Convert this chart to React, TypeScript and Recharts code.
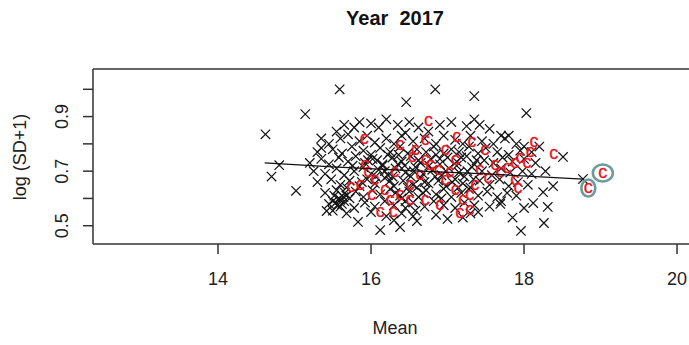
import { ReferenceLine, Scatter, ScatterChart, XAxis, YAxis } from 'recharts'

// Puntos negros (x): [Mean, log(SD+1)]
const CROSSES: [number, number][] = [
  // dispersos
  [14.62, 0.835], [14.7, 0.68], [14.8, 0.722], [15.02, 0.628], [15.14, 0.909], [15.35, 0.785],
  [15.59, 1.0], [16.46, 0.953], [16.84, 1.0], [17.35, 0.975], [18.03, 0.913], [18.51, 0.752],
  [18.77, 0.671], [18.38, 0.645], [18.25, 0.623], [18.12, 0.583], [18.31, 0.569], [18.26, 0.51],
  [17.96, 0.481], [17.69, 0.58], [15.83, 0.514], [16.12, 0.484], [16.38, 0.495], [16.6, 0.517],
  [15.42, 0.554], [16.3, 0.52], [17.4, 0.55], [17.2, 0.53],
  // 0.84 - 0.89
  [15.65, 0.87], [15.78, 0.86], [15.85, 0.88], [16.0, 0.875], [16.1, 0.86], [16.2, 0.89],
  [16.35, 0.87], [16.5, 0.88], [16.62, 0.86], [16.9, 0.87], [17.05, 0.88], [17.25, 0.865],
  [17.35, 0.89], [17.42, 0.87], [17.55, 0.855], [17.7, 0.83], [17.8, 0.83], [16.75, 0.845],
  [15.55, 0.845], [16.45, 0.84],
  // 0.80 - 0.84
  [15.45, 0.8], [15.6, 0.82], [15.7, 0.835], [15.85, 0.81], [15.95, 0.83], [16.05, 0.805],
  [16.2, 0.82], [16.3, 0.8], [16.4, 0.83], [16.55, 0.81], [16.7, 0.82], [16.85, 0.8],
  [16.95, 0.83], [17.1, 0.815], [17.2, 0.8], [17.3, 0.83], [17.45, 0.81], [17.6, 0.8],
  [17.75, 0.82], [17.9, 0.8], [18.0, 0.79], [15.35, 0.82],
  // 0.76 - 0.80
  [15.3, 0.77], [15.5, 0.78], [15.62, 0.765], [15.75, 0.79], [15.9, 0.775], [16.0, 0.76],
  [16.12, 0.785], [16.25, 0.77], [16.38, 0.79], [16.48, 0.765], [16.6, 0.78], [16.72, 0.77],
  [16.82, 0.79], [16.95, 0.765], [17.05, 0.78], [17.15, 0.77], [17.28, 0.79], [17.4, 0.765],
  [17.5, 0.785], [17.65, 0.77], [17.8, 0.76], [17.95, 0.775], [18.1, 0.77], [18.2, 0.79],
  // 0.72 - 0.76
  [15.2, 0.73], [15.35, 0.745], [15.45, 0.725], [15.58, 0.75], [15.7, 0.735], [15.8, 0.755],
  [15.92, 0.73], [16.02, 0.745], [16.15, 0.725], [16.28, 0.75], [16.4, 0.735], [16.52, 0.755],
  [16.65, 0.73], [16.78, 0.745], [16.9, 0.725], [17.0, 0.75], [17.12, 0.735], [17.25, 0.755],
  [17.35, 0.725], [17.48, 0.74], [17.6, 0.73], [17.72, 0.75], [17.85, 0.735], [18.0, 0.745],
  [18.15, 0.73], [16.35, 0.725], [16.85, 0.76],
  // 0.68 - 0.72
  [15.25, 0.7], [15.4, 0.69], [15.55, 0.71], [15.65, 0.685], [15.78, 0.7], [15.9, 0.715],
  [16.0, 0.69], [16.1, 0.705], [16.22, 0.685], [16.32, 0.71], [16.45, 0.695], [16.58, 0.715],
  [16.68, 0.69], [16.8, 0.705], [16.92, 0.685], [17.02, 0.71], [17.15, 0.695], [17.22, 0.68],
  [17.32, 0.715], [17.45, 0.7], [17.58, 0.685], [17.7, 0.71], [17.82, 0.695], [17.98, 0.7],
  [18.1, 0.69], [18.28, 0.7], [16.52, 0.68], [16.15, 0.72],
  // 0.64 - 0.68
  [15.3, 0.66], [15.48, 0.67], [15.6, 0.65], [15.72, 0.665], [15.85, 0.645], [15.95, 0.67],
  [16.05, 0.655], [16.18, 0.675], [16.3, 0.645], [16.42, 0.665], [16.55, 0.65], [16.65, 0.675],
  [16.75, 0.655], [16.88, 0.665], [16.98, 0.645], [17.1, 0.67], [17.2, 0.655], [17.3, 0.64],
  [17.42, 0.665], [17.55, 0.65], [17.68, 0.67], [17.8, 0.645], [17.92, 0.66], [18.05, 0.65],
  [16.25, 0.665], [16.6, 0.64],
  // 0.60 - 0.64
  [15.4, 0.62], [15.55, 0.63], [15.68, 0.61], [15.8, 0.625], [15.9, 0.605], [16.02, 0.63],
  [16.12, 0.615], [16.25, 0.635], [16.38, 0.61], [16.5, 0.625], [16.62, 0.605], [16.72, 0.63],
  [16.85, 0.615], [16.95, 0.635], [17.05, 0.605], [17.18, 0.62], [17.28, 0.635], [17.4, 0.61],
  [17.52, 0.625], [17.65, 0.605], [17.78, 0.62], [17.9, 0.61], [15.72, 0.6],
  // 0.56 - 0.60
  [15.45, 0.58], [15.6, 0.57], [15.65, 0.59], [15.78, 0.565], [15.92, 0.585], [16.05, 0.57],
  [16.18, 0.59], [16.3, 0.575], [16.45, 0.565], [16.55, 0.585], [16.7, 0.57], [16.82, 0.59],
  [16.95, 0.575], [17.1, 0.565], [17.22, 0.585], [17.35, 0.575], [17.55, 0.57], [17.7, 0.59],
  [18.0, 0.565],
  // 0.52 - 0.56
  [15.5, 0.555], [15.68, 0.545], [16.0, 0.55], [16.2, 0.535], [16.4, 0.545], [16.55, 0.535],
  [16.58, 0.555], [16.85, 0.54], [17.0, 0.525], [17.3, 0.545], [17.85, 0.53],
  // núcleo denso
  [16.08, 0.74], [16.18, 0.7], [16.28, 0.68], [16.36, 0.76], [16.44, 0.72], [16.56, 0.7],
  [16.62, 0.74], [16.7, 0.66], [16.76, 0.72], [16.84, 0.68], [16.9, 0.745], [16.98, 0.7],
  [17.06, 0.66], [17.12, 0.72], [17.18, 0.75], [17.26, 0.7], [17.34, 0.67], [17.38, 0.74],
  [16.48, 0.64], [16.32, 0.62], [16.68, 0.62], [16.92, 0.6], [17.14, 0.64], [16.22, 0.76],
  [16.06, 0.68], [15.96, 0.74], [15.88, 0.66], [15.76, 0.72], [15.68, 0.64], [15.58, 0.6],
  [15.52, 0.61], [15.62, 0.58], [15.56, 0.575], [15.5, 0.59], [15.66, 0.62],
  [15.6, 0.595], [15.54, 0.585], [15.64, 0.605], [16.4, 0.6], [16.45, 0.59],
]

// Puntos rojos ("c")
const RED_C: [number, number][] = [
  [15.74, 0.641], [15.91, 0.817], [16.75, 0.883], [16.12, 0.55], [16.29, 0.55], [17.12, 0.825],
  [17.32, 0.806], [18.13, 0.806], [18.39, 0.763], [19.03, 0.693], [18.84, 0.638], [17.16, 0.547],
  [17.92, 0.638], [17.88, 0.667], [15.92, 0.722], [15.96, 0.696], [16.05, 0.667], [16.18, 0.631],
  [16.25, 0.594], [16.38, 0.612], [16.51, 0.594], [16.51, 0.649], [16.64, 0.686], [16.71, 0.741],
  [16.77, 0.722], [16.88, 0.704], [16.97, 0.667], [17.03, 0.696], [17.1, 0.631], [17.2, 0.594],
  [17.29, 0.612], [17.36, 0.649], [17.42, 0.704], [17.53, 0.675], [17.62, 0.722], [17.69, 0.696],
  [17.78, 0.711], [17.88, 0.73], [17.95, 0.748], [18.04, 0.73], [18.08, 0.77], [16.97, 0.777],
  [16.71, 0.814], [16.38, 0.796], [16.54, 0.752], [16.9, 0.576], [17.29, 0.558], [16.71, 0.594],
  [16.01, 0.612], [16.31, 0.697], [16.58, 0.777], [15.86, 0.649], [17.1, 0.741], [17.49, 0.777],
]

// Los dos puntos rodeados
const CIRCLED: [number, number][] = [[19.03, 0.693], [18.84, 0.638]]

// Curva de tendencia
const TREND: [number, number][] = [
  [14.61, 0.73], [15.5, 0.716], [16.5, 0.702], [17.5, 0.69], [18.77, 0.671],
]

const X_TICKS = [14, 16, 18, 20]
const Y_TICKS = [0.5, 0.6, 0.7, 0.8, 0.9, 1.0]
const Y_LABELED = [0.5, 0.7, 0.9]

const X_DOMAIN: [number, number] = [12.366, 20.261]
const Y_DOMAIN: [number, number] = [0.433, 1.0744]

const toXY = (arr: [number, number][]) => arr.map(([x, y]) => ({ x, y }))

const FONT = '"Liberation Sans", Arial, sans-serif'
const AXIS = '#333'
const HALO_RX = [10, 7]

const Cross = (p: any) => {
  const { cx, cy } = p
  const s = 4.7
  return (
    <path
      d={`M${cx - s},${cy - s}L${cx + s},${cy + s}M${cx - s},${cy + s}L${cx + s},${cy - s}`}
      stroke="#161616"
      strokeWidth={1.25}
      fill="none"
    />
  )
}

const LetterC = (p: any) => (
  <text
    x={p.cx}
    y={p.cy}
    dy={5}
    textAnchor="middle"
    fontSize={18}
    fontFamily={FONT}
    fill="#ea1520"
    stroke="#ea1520"
    strokeWidth={0.3}
  >
    c
  </text>
)

const Halo = (p: any) => (
  <ellipse
    cx={p.cx}
    cy={p.cy}
    rx={HALO_RX[p.index] ?? 9}
    ry={8.5}
    fill="none"
    stroke="#6b9c9f"
    strokeWidth={2.6}
  />
)

const XTick = (p: any) => (
  <text x={p.x} y={p.y + 28.5} textAnchor="middle" fontSize={18} fontFamily={FONT} fill="#222">
    {p.payload.value}
  </text>
)

const YTick = (p: any) => {
  const v = p.payload.value
  if (!Y_LABELED.some((l) => Math.abs(l - v) < 1e-9)) return <g />
  const x = p.x - 12.5
  return (
    <text
      x={x}
      y={p.y}
      transform={`rotate(-90, ${x}, ${p.y})`}
      textAnchor="middle"
      fontSize={18}
      fontFamily={FONT}
      fill="#222"
    >
      {v.toFixed(1)}
    </text>
  )
}

export default function App() {
  return (
    <div
      style={{
        position: 'absolute',
        left: 0,
        top: 0,
        width: 689,
        height: 345,
        overflow: 'hidden',
        background: '#fff',
      }}
    >
      <ScatterChart width={710} height={345} margin={{ top: 69, right: 13, bottom: 0, left: 0 }}>
        <XAxis
          type="number"
          dataKey="x"
          domain={X_DOMAIN}
          ticks={X_TICKS}
          allowDataOverflow
          height={101}
          tickSize={10}
          stroke={AXIS}
          strokeWidth={1.5}
          tick={<XTick />}
        />
        <YAxis
          type="number"
          dataKey="y"
          domain={Y_DOMAIN}
          ticks={Y_TICKS}
          allowDataOverflow
          width={93}
          tickSize={10}
          stroke={AXIS}
          strokeWidth={1.5}
          tick={<YTick />}
        />
        <ReferenceLine y={Y_DOMAIN[1]} stroke={AXIS} strokeWidth={1.5} />
        <Scatter data={toXY(CROSSES)} shape={<Cross />} isAnimationActive={false} />
        <Scatter data={toXY(RED_C)} shape={<LetterC />} isAnimationActive={false} />
        <Scatter
          data={toXY(TREND)}
          line={{ stroke: '#111', strokeWidth: 1.3 }}
          shape={() => <g />}
          isAnimationActive={false}
        />
        <Scatter data={toXY(CIRCLED)} shape={<Halo />} isAnimationActive={false} />
      </ScatterChart>

      <svg
        width={689}
        height={345}
        style={{ position: 'absolute', left: 0, top: 0, pointerEvents: 'none' }}
      >
        <text
          x={395}
          y={25}
          textAnchor="middle"
          fontSize={20}
          fontWeight="bold"
          fontFamily={FONT}
          fill="#111"
          style={{ whiteSpace: 'pre' }}
        >
          {'Year  2017'}
        </text>
        <text x={395} y={334} textAnchor="middle" fontSize={18} fontFamily={FONT} fill="#222">
          Mean
        </text>
        <text
          x={26}
          y={157}
          transform="rotate(-90, 26, 157)"
          textAnchor="middle"
          fontSize={18}
          fontFamily={FONT}
          fill="#222"
        >
          log (SD+1)
        </text>
      </svg>
    </div>
  )
}
